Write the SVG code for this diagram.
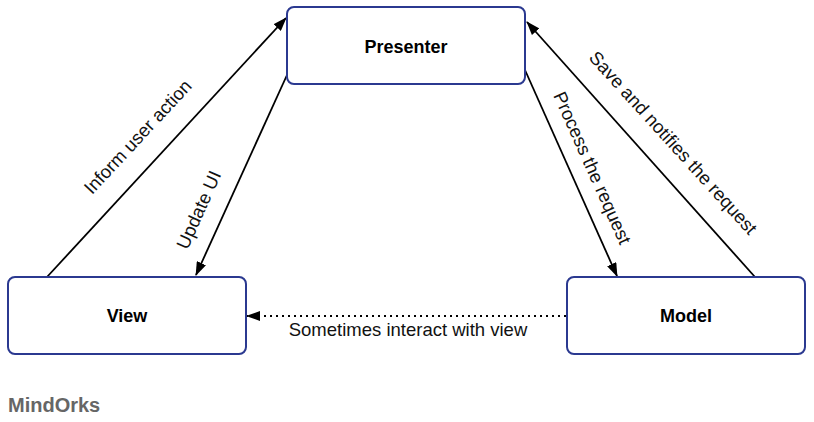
<svg xmlns="http://www.w3.org/2000/svg" width="814" height="422" viewBox="0 0 814 422">
<style>
.box{fill:#fff;stroke:#2b3990;stroke-width:2}
.title{font-family:"Liberation Sans",Arial,sans-serif;font-weight:bold;font-size:18px;fill:#000;text-anchor:middle}
.lbl{font-family:"Liberation Sans",Arial,sans-serif;font-size:18.5px;fill:#111;text-anchor:middle}
.edge{stroke:#000;stroke-width:1.8;fill:none;marker-end:url(#ah)}
.dot{stroke:#000;stroke-width:2;fill:none;stroke-dasharray:2 4;marker-end:url(#ah)}
</style>
<defs>
<marker id="ah" markerUnits="userSpaceOnUse" markerWidth="14" markerHeight="10" viewBox="0 0 14 10" refX="13" refY="5" orient="auto">
<path d="M0,0 L14,5 L0,10 z" fill="#000"/>
</marker>
</defs>
<rect width="814" height="422" fill="#fff"/>
<g id="connectors">
<line class="edge" x1="47" y1="277" x2="286" y2="18"/>
<line class="edge" x1="287" y1="75" x2="196" y2="275"/>
<line class="edge" x1="525" y1="70" x2="617" y2="276"/>
<line class="edge" x1="755" y1="277" x2="527" y2="22"/>
<line class="dot" x1="566" y1="316" x2="247" y2="316"/>
<text class="lbl" transform="translate(138,137) rotate(-47)" y="6">Inform user action</text>
<text class="lbl" transform="translate(199,210) rotate(-65.9)" y="6">Update UI</text>
<text class="lbl" transform="translate(592,168) rotate(66)" y="6">Process the request</text>
<text class="lbl" transform="translate(673,143) rotate(47.8)" y="6">Save and notifies the request</text>
<text class="lbl" x="408" y="336">Sometimes interact with view</text>
</g>
<g id="presenter">
<rect class="box" x="287" y="7" width="238" height="77" rx="7"/>
<text class="title" x="406" y="53">Presenter</text>
</g>
<g id="view">
<rect class="box" x="8" y="277" width="238" height="77" rx="7"/>
<text class="title" x="127" y="322">View</text>
</g>
<g id="model">
<rect class="box" x="567" y="277" width="238" height="77" rx="7"/>
<text class="title" x="686" y="322">Model</text>
</g>
<text x="8" y="412" style="font-family:'Liberation Sans',Arial,sans-serif;font-weight:bold;font-size:20px;fill:#666">MindOrks</text>
</svg>
